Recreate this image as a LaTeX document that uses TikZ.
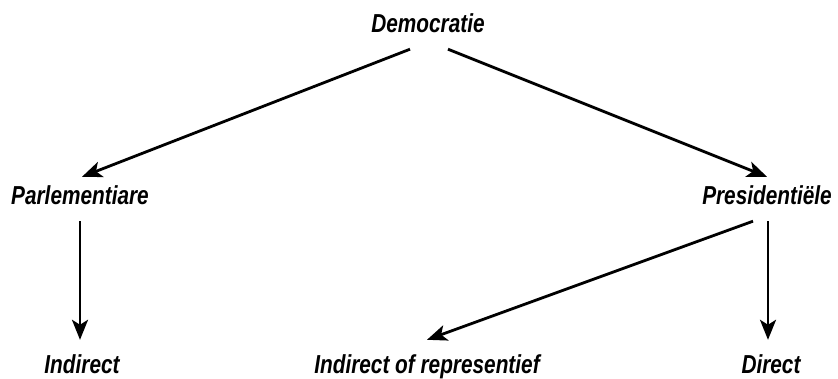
\documentclass[tikz,border=0pt]{standalone}
\usepackage{fontspec}
\setmainfont{Liberation Sans}
\usepackage{tikz}
\usetikzlibrary{arrows.meta,positioning,calc}

\newcommand{\narrowtext}[1]{\scalebox{0.8}[1]{#1}}
\tikzset{
  term/.style={font=\fontsize{26}{28}\selectfont\bfseries\itshape, inner sep=0pt, text height=19pt, text depth=5pt, anchor=base},
  arr/.style={line width=2.8pt, -{Stealth[length=20pt,width=16pt,inset=5pt]}}
}

\begin{document}
\begin{tikzpicture}[x=1pt,y=1pt]
        \useasboundingbox (0,0) rectangle (838,378);
        % Top level
        \node[term] (dem) at (428,345) {\narrowtext{Democratie}};
        % Second level
        \node[term] (parl) at (80,173) {\narrowtext{Parlementiare}};
        \node[term] (pres) at (767,173) {\narrowtext{Presidentiële}};
        % Third level
        \node[term] (ind) at (82,5) {\narrowtext{Indirect}};
        \node[term] (rep) at (427,5) {\narrowtext{Indirect of representief}};
        \node[term] (dir) at (771,5) {\narrowtext{Direct}};
        % Arrows
        \draw[arr] ([xshift=-18pt,yshift=-11pt]dem.south) -- ([xshift=2pt,yshift=9pt]parl.north);
        \draw[arr] ([xshift=20pt,yshift=-11pt]dem.south) -- ([yshift=9pt]pres.north);
        \draw[arr] ([yshift=-11pt]parl.south) -- ([xshift=-2pt,yshift=14pt]ind.north);
        \draw[arr] ([xshift=-14pt,yshift=-11pt]pres.south) -- ([yshift=14pt]rep.north);
        \draw[arr] ([xshift=1pt,yshift=-11pt]pres.south) -- ([xshift=-3pt,yshift=14pt]dir.north);
      \end{tikzpicture}
\end{document}
